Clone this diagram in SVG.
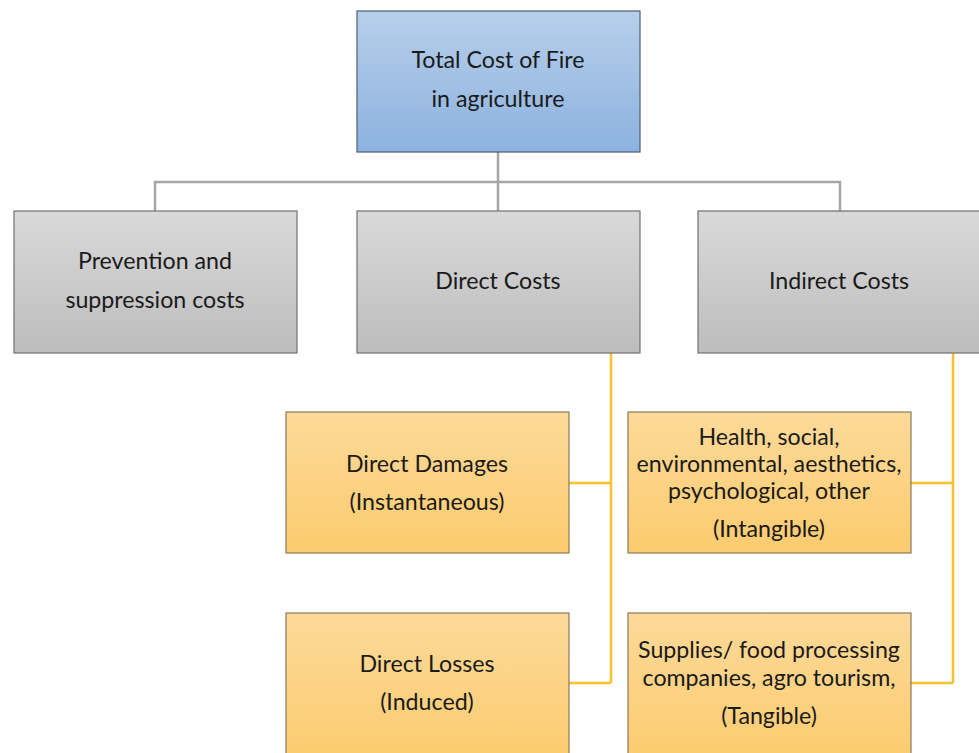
<svg xmlns="http://www.w3.org/2000/svg" width="979" height="753" viewBox="0 0 979 753">
<defs>
<linearGradient id="gBlue" x1="0" y1="0" x2="0" y2="1"><stop offset="0" stop-color="#b7cfea"/><stop offset="1" stop-color="#8cb2df"/></linearGradient>
<linearGradient id="gGray" x1="0" y1="0" x2="0" y2="1"><stop offset="0" stop-color="#d9d9d9"/><stop offset="1" stop-color="#bdbdbd"/></linearGradient>
<linearGradient id="gOrange" x1="0" y1="0" x2="0" y2="1"><stop offset="0" stop-color="#fdda9a"/><stop offset="1" stop-color="#fbcb6e"/></linearGradient>
</defs>
<style>
.box{stroke-width:1.2}
.blue{fill:url(#gBlue);stroke:#4f5f73}
.gray{fill:url(#gGray);stroke:#707070}
.orange{fill:url(#gOrange);stroke:#8c7a58}
text{font-family:Lato,"Open Sans","Liberation Sans",sans-serif;font-size:23.2px;fill:#1a1a1a;text-anchor:middle}
.gc{fill:none;stroke:#a6a6a6;stroke-width:2.5}
.yc{fill:none;stroke:#fbc02d;stroke-width:2.5}
</style>
<rect width="979" height="753" fill="#ffffff"/>
<g id="connectors">
<path class="gc" d="M498 152V211M155 211V182H840V211"/>
<path class="yc" d="M611 353V683M569 483H611M569 683H611"/>
<path class="yc" d="M953 353V683M911 483H953M911 683H953"/>
</g>
<g id="total"><rect class="box blue" x="357" y="11" width="283" height="141"/><text x="498" y="68">Total Cost of Fire</text><text x="498" y="107">in agriculture</text></g>
<g id="prevention"><rect class="box gray" x="14" y="211" width="283" height="142"/><text x="155" y="269">Prevention and</text><text x="155" y="308">suppression costs</text></g>
<g id="direct"><rect class="box gray" x="357" y="211" width="283" height="142"/><text x="498" y="289">Direct Costs</text></g>
<g id="indirect"><rect class="box gray" x="698" y="211" width="290" height="142"/><text x="839" y="289">Indirect Costs</text></g>
<g id="damages"><rect class="box orange" x="286" y="412" width="283" height="141"/><text x="427" y="472">Direct Damages</text><text x="427" y="510">(Instantaneous)</text></g>
<g id="intangible"><rect class="box orange" x="628" y="412" width="283" height="141"/><text x="769" y="445">Health, social,</text><text x="769" y="472">environmental, aesthetics,</text><text x="769" y="499">psychological, other</text><text x="769" y="537">(Intangible)</text></g>
<g id="losses"><rect class="box orange" x="286" y="613" width="283" height="150"/><text x="427" y="672">Direct Losses</text><text x="427" y="710">(Induced)</text></g>
<g id="tangible"><rect class="box orange" x="628" y="613" width="283" height="150"/><text x="769" y="658">Supplies/ food processing</text><text x="769" y="686">companies, agro tourism,</text><text x="769" y="724">(Tangible)</text></g>
</svg>
